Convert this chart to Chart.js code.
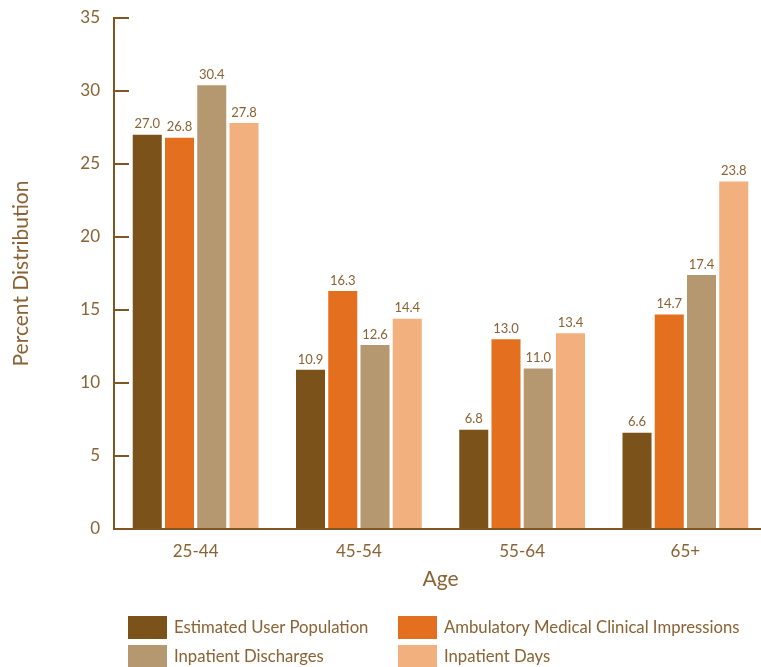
<!DOCTYPE html>
<html>
<head>
<meta charset="utf-8">
<script src="https://cdn.jsdelivr.net/npm/chart.js@4"></script>
<style>
  html, body { margin: 0; padding: 0; background: #fff; overflow: hidden; }
  #wrap { position: relative; width: 770px; height: 667px; }
</style>
</head>
<body>
<div id="wrap"><canvas id="chart"></canvas></div>
<script>
// data
var ageGroups = ['25-44', '45-54', '55-64', '65+'];
var seriesNames = ['Estimated User Population', 'Ambulatory Medical Clinical Impressions', 'Inpatient Discharges', 'Inpatient Days'];
var userPopulation = [27.0, 10.9, 6.8, 6.6];
var ambulatoryImpressions = [26.8, 16.3, 13.0, 14.7];
var inpatientDischarges = [30.4, 12.6, 11.0, 17.4];
var inpatientDays = [27.8, 14.4, 13.4, 23.8];
var yTicks = [0, 5, 10, 15, 20, 25, 30, 35];

var colors = ['#7b521a', '#e36f1f', '#b59870', '#f3b07f'];
var textColor = '#8a6233';
var lineColor = '#7f5722';
var fontFamily = 'Lato, "Open Sans", sans-serif';

var seriesValues = [userPopulation, ambulatoryImpressions, inpatientDischarges, inpatientDays];

// value labels above bars
var valueLabels = {
    id: 'valueLabels',
    afterDatasetsDraw(chart) {
        var ctx = chart.ctx;
        ctx.save();
        ctx.font = '13px ' + fontFamily;
        ctx.fillStyle = textColor;
        ctx.textAlign = 'center';
        ctx.textBaseline = 'bottom';
        chart.data.datasets.forEach(function (ds, i) {
            chart.getDatasetMeta(i).data.forEach(function (bar, j) {
                ctx.fillText(ds.data[j].toFixed(1), bar.x, bar.y - 4);
            });
        });
        ctx.restore();
    }
};

// two column legend under the axis title
var boxLegend = {
    id: 'boxLegend',
    afterDraw(chart) {
        var ctx = chart.ctx;
        var colX = [128, 398];
        ctx.save();
        ctx.font = '16.7px ' + fontFamily;
        ctx.textBaseline = 'middle';
        ctx.textAlign = 'left';
        chart.data.datasets.forEach(function (ds, i) {
            var x = colX[i % 2];
            var y = 616 + Math.floor(i / 2) * 29;
            ctx.fillStyle = ds.backgroundColor;
            ctx.fillRect(x, y, 39, 23);
            ctx.fillStyle = textColor;
            ctx.fillText(ds.label, x + 46, y + 12);
        });
        ctx.restore();
    }
};

var ctx = document.getElementById('chart').getContext('2d');
var chart = new Chart(ctx, {
    type: 'bar',
    data: {
        labels: ageGroups,
        datasets: seriesNames.map(function (name, i) {
            return {
                label: name,
                data: seriesValues[i],
                backgroundColor: colors[i],
                barPercentage: 0.9,
                categoryPercentage: 0.79
            };
        })
    },
    options: {
        responsive: true,
        maintainAspectRatio: false,
        animation: false,
        layout: { padding: { top: 18, right: 3, bottom: 68, left: 0 } },
        plugins: {
            legend: { display: false },
            tooltip: { enabled: false }
        },
        scales: {
            x: {
                grid: { display: true, drawOnChartArea: false, drawTicks: false },
                border: { display: true, color: lineColor, width: 2 },
                ticks: { color: textColor, font: { family: fontFamily, size: 17 }, padding: 12 },
                title: { display: true, text: 'Age', color: textColor, font: { family: fontFamily, size: 21 }, padding: { top: 0, bottom: 7 } },
                afterFit: function (scale) { scale.height = 70; }
            },
            y: {
                min: 0,
                max: 35,
                afterBuildTicks: function (scale) {
                    scale.ticks = yTicks.map(function (v) { return { value: v }; });
                },
                grid: { drawOnChartArea: false, drawTicks: true, tickLength: -15, color: lineColor, lineWidth: 2 },
                border: { display: true, color: lineColor, width: 2 },
                ticks: { color: textColor, font: { family: fontFamily, size: 17 }, padding: 29 },
                title: { display: true, text: 'Percent Distribution', color: textColor, font: { family: fontFamily, size: 21 }, padding: { top: 9, bottom: 0 } },
                afterFit: function (scale) {
                    scale.width = 114;
                    // the big tick padding is only horizontal here
                    scale.paddingTop = 0;
                    scale.paddingBottom = 0;
                }
            }
        }
    },
    plugins: [valueLabels, boxLegend]
});
</script>
</body>
</html>
